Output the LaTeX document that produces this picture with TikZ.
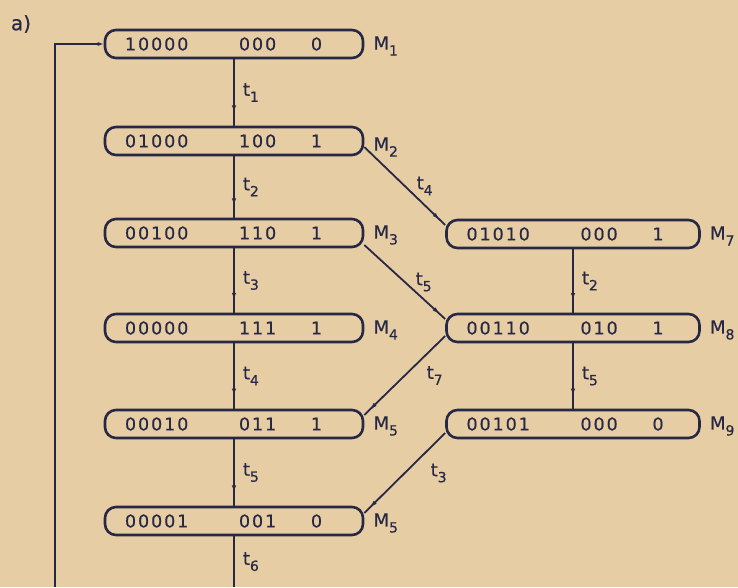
\documentclass[tikz,border=0pt]{standalone}
\usepackage{fontspec}
\setmainfont{DejaVu Sans}[FakeBold=0.5]
\newfontfamily\digitfont[LetterSpace=11, FakeBold=0.5]{DejaVu Sans}
\usetikzlibrary{arrows.meta, positioning, decorations.markings}

\definecolor{paper}{RGB}{231,205,163}
\definecolor{ink}{RGB}{38,40,70}

% marking: places, transitions, subscripted labels
\newcommand{\mk}[4][258pt]{\makebox[#1][l]{\hspace*{20pt}\makebox[114pt][l]{\digitfont #2}\makebox[72pt][l]{\digitfont #3}{\digitfont #4}}}
\newcommand{\sublab}[2]{#1\raisebox{-6pt}{\fontsize{14}{14}\selectfont #2}}

\begin{document}
\begin{tikzpicture}[
  x=1pt, y=-1pt,
  box/.style={draw=ink, line width=2.6pt, rounded corners=11pt, minimum height=28pt,
    inner sep=0pt, text=ink, font=\fontsize{17.5}{20}\selectfont},
  mlab/.style={anchor=west, xshift=9pt, yshift=-2pt, text=ink, inner sep=0pt,
    font=\fontsize{18}{20}\selectfont},
  tlab/.style={midway, right=#1, text=ink, inner sep=0pt, font=\fontsize{18}{20}\selectfont},
  tlab/.default=8pt,
  wire/.style={draw=ink, line width=1.8pt},
  flow/.style={wire, postaction={decorate}, decoration={markings,
    mark=at position #1 with {\arrow[ink]{Latex[length=7pt,width=4.5pt]}}}},
  flow/.default=0.8
]
\path[use as bounding box, fill=paper] (0,0) rectangle (738,587);

\node[text=ink, font=\fontsize{20}{22}\selectfont] (cap) at (21,24) {a)};

% left column
\node[box] (M1) at (234,44) {\mk{10000}{000}{0}};
\node[box] (M2) at (234,141) {\mk{01000}{100}{1}};
\node[box] (M3) at (234,233) {\mk{00100}{110}{1}};
\node[box] (M4) at (234,328) {\mk{00000}{111}{1}};
\node[box] (M5) at (234,424) {\mk{00010}{011}{1}};
\node[box] (M6) at (234,521) {\mk{00001}{001}{0}};

% right column
\node[box] (M7) at (573,234) {\mk[253pt]{01010}{000}{1}};
\node[box] (M8) at (573,328) {\mk[253pt]{00110}{010}{1}};
\node[box] (M9) at (573,424) {\mk[253pt]{00101}{000}{0}};

\node[mlab] (l1) at (M1.east) {\sublab{M}{1}};
\node[mlab, yshift=-4pt] (l2) at (M2.east) {\sublab{M}{2}};
\node[mlab] (l3) at (M3.east) {\sublab{M}{3}};
\node[mlab] (l4) at (M4.east) {\sublab{M}{4}};
\node[mlab] (l5) at (M5.east) {\sublab{M}{5}};
\node[mlab] (l6) at (M6.east) {\sublab{M}{5}};
\node[mlab] (l7) at (M7.east) {\sublab{M}{7}};
\node[mlab] (l8) at (M8.east) {\sublab{M}{8}};
\node[mlab] (l9) at (M9.east) {\sublab{M}{9}};

% transitions
\draw[flow] (M1) -- (M2) node[tlab] {\sublab{t}{1}};
\draw[flow] (M2) -- (M3) node[tlab] {\sublab{t}{2}};
\draw[flow] (M3) -- (M4) node[tlab] {\sublab{t}{3}};
\draw[flow] (M4) -- (M5) node[tlab] {\sublab{t}{4}};
\draw[flow] (M5) -- (M6) node[tlab] {\sublab{t}{5}};
\draw[flow] (M7) -- (M8) node[tlab] {\sublab{t}{2}};
\draw[flow] (M8) -- (M9) node[tlab] {\sublab{t}{5}};

\draw[flow=0.93] ([yshift=-6pt]M2.east) -- ([yshift=9pt]M7.west) node[tlab=11pt] {\sublab{t}{4}};
\draw[flow=0.93] ([yshift=-12pt]M3.east) -- ([yshift=9pt]M8.west) node[tlab=10pt] {\sublab{t}{5}};
\draw[flow=0.93] ([yshift=-8pt]M8.west) -- ([yshift=9pt]M5.east) node[tlab=21pt] {\sublab{t}{7}};
\draw[flow=0.93] ([yshift=-9pt]M9.west) -- ([yshift=8pt]M6.east) node[tlab=25pt] {\sublab{t}{3}};

% open ends at the bottom and the loop back to M1
\coordinate (t6end) at (234,587);
\coordinate (loopbot) at (55,587);
\coordinate (looptop) at (55,44);
\draw[wire] (M6) -- (t6end) node[tlab, pos=0.5] {\sublab{t}{6}};
\draw[wire, -{Latex[length=6pt,width=4pt]}] (loopbot) -- (looptop) -- (M1.west);
\end{tikzpicture}
\end{document}
